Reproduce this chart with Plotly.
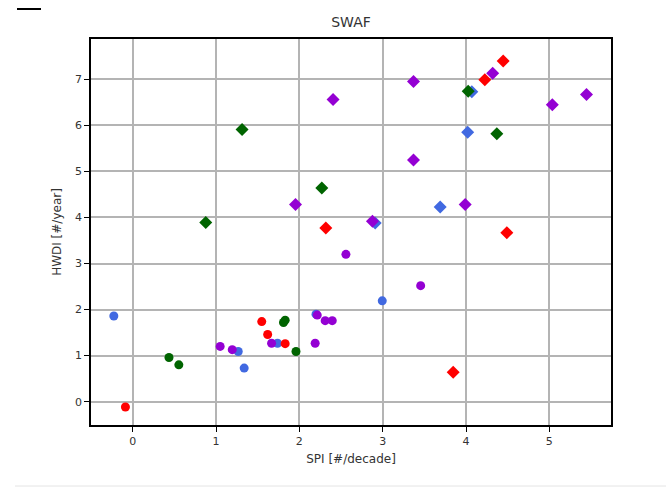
import plotly.graph_objects as go

# ---- data ----
colors = {"red": "#ff0000", "blue": "#4169e1", "purple": "#9400d3", "green": "#006400"}

blue_d_x = [4.07, 4.02, 3.69, 2.91]
blue_d_y = [6.73, 5.85, 4.23, 3.88]
blue_c_x = [2.995, -0.226, 1.267, 1.338, 1.738, 2.20]
blue_c_y = [2.19, 1.86, 1.09, 0.73, 1.27, 1.90]

purple_d_x = [4.32, 3.37, 2.405, 5.036, 5.446, 3.37, 1.954, 3.99, 2.877]
purple_d_y = [7.13, 6.95, 6.56, 6.45, 6.67, 5.25, 4.28, 4.28, 3.92]
purple_c_x = [2.559, 3.456, 2.215, 2.31, 2.395, 2.19, 1.667, 1.195, 1.05]
purple_c_y = [3.20, 2.52, 1.88, 1.76, 1.76, 1.27, 1.27, 1.13, 1.20]

red_d_x = [4.446, 4.226, 2.318, 4.49, 3.846]
red_d_y = [7.40, 6.99, 3.77, 3.67, 0.64]
red_c_x = [1.549, 1.62, 1.83, -0.087]
red_c_y = [1.74, 1.46, 1.26, -0.115]

green_d_x = [4.026, 4.37, 1.313, 2.27, 0.877]
green_d_y = [6.74, 5.82, 5.91, 4.64, 3.89]
green_c_x = [1.81, 1.83, 1.96, 0.436, 0.554]
green_c_y = [1.72, 1.77, 1.09, 0.96, 0.80]

x_ticks = [0, 1, 2, 3, 4, 5]
y_ticks = [0, 1, 2, 3, 4, 5, 6, 7]
title = "SWAF"
x_title = "SPI [#/decade]"
y_title = "HWDI [#/year]"

series = [
    ("blue", blue_d_x, blue_d_y, blue_c_x, blue_c_y),
    ("purple", purple_d_x, purple_d_y, purple_c_x, purple_c_y),
    ("red", red_d_x, red_d_y, red_c_x, red_c_y),
    ("green", green_d_x, green_d_y, green_c_x, green_c_y),
]

fig = go.Figure()
for name, dx, dy, cx, cy in series:
    fig.add_trace(go.Scatter(x=cx, y=cy, mode="markers",
                             marker=dict(symbol="circle", size=9, color=colors[name], line=dict(width=0)),
                             showlegend=False))
    fig.add_trace(go.Scatter(x=dx, y=dy, mode="markers",
                             marker=dict(symbol="diamond", size=10, color=colors[name], line=dict(width=0)),
                             showlegend=False))

font = "DejaVu Sans, Arial, sans-serif"
axis_common = dict(showgrid=True, gridcolor="#b4b4b4", gridwidth=1.6,
                   zeroline=False, showline=True, linecolor="black", linewidth=1.5,
                   mirror=True, ticks="outside", ticklen=5, tickcolor="black", tickwidth=1,
                   tickfont=dict(family=font, size=11, color="#333"))

fig.update_xaxes(range=[-0.5, 5.74], tickvals=x_ticks,
                 title=dict(text=x_title, font=dict(family=font, size=12, color="#333"), standoff=8),
                 **axis_common)
fig.update_yaxes(range=[-0.506, 7.875], tickvals=y_ticks,
                 title=dict(text=y_title, font=dict(family=font, size=12, color="#333"), standoff=11),
                 **axis_common)

fig.update_layout(
    width=666, height=488, autosize=False,
    margin=dict(l=91, r=55, t=39, b=63),
    paper_bgcolor="white", plot_bgcolor="white",
    title=dict(text=title, x=(91 + 611) / 2 / 666, xanchor="center", y=1 - 22 / 488, yanchor="middle",
               font=dict(family=font, size=14, color="#333")),
    shapes=[
        dict(type="line", xref="paper", yref="paper",
             x0=-74 / 520, x1=-50 / 520, y0=1 + 30 / 386, y1=1 + 30 / 386,
             line=dict(color="black", width=2)),
        dict(type="line", xref="paper", yref="paper",
             x0=-76 / 520, x1=640 / 520 - 0.0, y0=-61 / 386, y1=-61 / 386,
             line=dict(color="#e4e4e4", width=1)),
    ],
)

fig.write_html("out.html")
